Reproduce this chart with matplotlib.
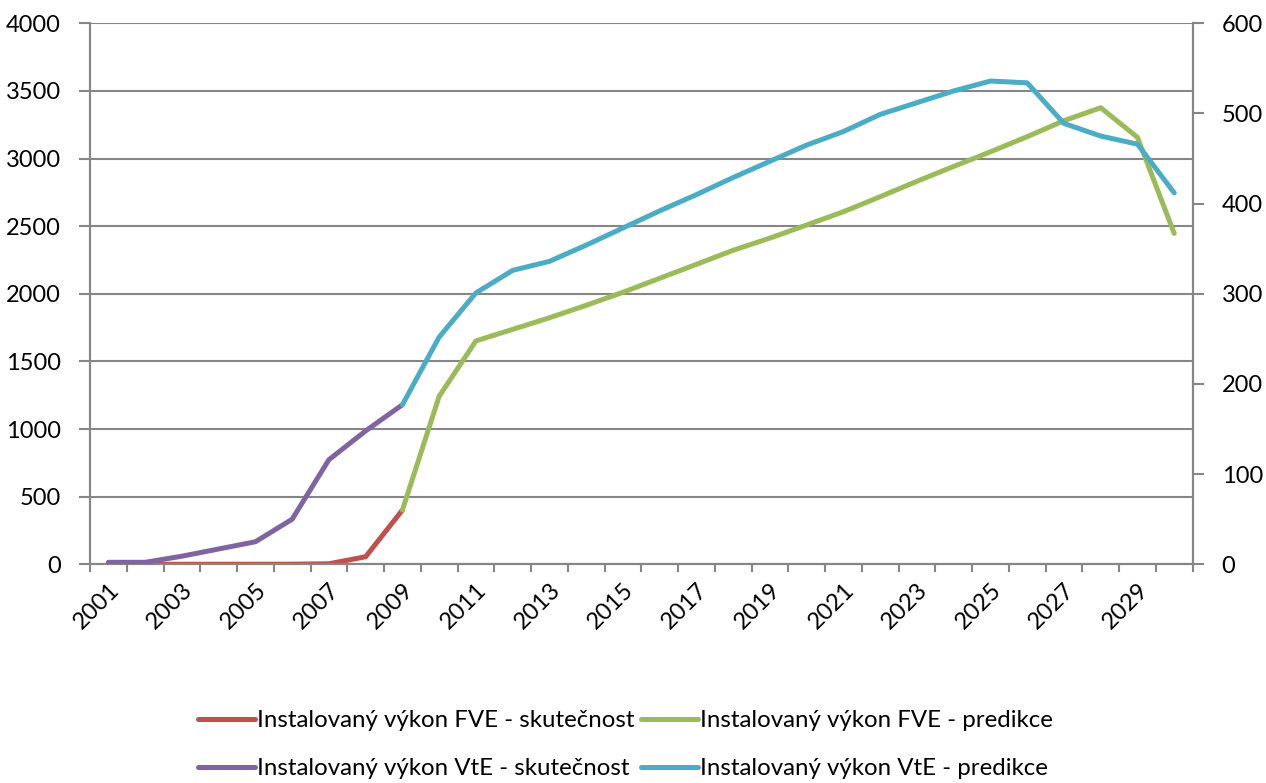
import numpy as np
import matplotlib
matplotlib.use("Agg")
import matplotlib.pyplot as plt
from matplotlib.ticker import FixedLocator, NullFormatter

plt.rcParams['font.family'] = ['Lato', 'DejaVu Sans']

years = list(range(2001, 2031))
nan = np.nan

fve_actual = [0, 0, 0.3, 0.4, 0.6, 0.8, 4, 56, 401] + [nan] * 21
fve_pred = [nan] * 8 + [401, 1242, 1652, 1737, 1823, 1915, 2011, 2115, 2218, 2322,
                        2412, 2509, 2607, 2718, 2832, 2942, 3050, 3162, 3280, 3376,
                        3157, 2447]
vte_actual = [2.2, 2.2, 9, 17, 25, 50, 116, 148, 177] + [nan] * 21
vte_pred = [nan] * 8 + [177, 252, 301, 326, 336, 354, 373, 392, 410, 429,
                        447, 465, 480, 499, 512, 525, 536, 534, 489, 475,
                        466, 412]

labels = {
    'fve_a': 'Instalovaný výkon FVE - skutečnost',
    'fve_p': 'Instalovaný výkon FVE - predikce',
    'vte_a': 'Instalovaný výkon VtE - skutečnost',
    'vte_p': 'Instalovaný výkon VtE - predikce',
}
colors = {'fve_a': '#C0504D', 'fve_p': '#9BBB59', 'vte_a': '#8064A2', 'vte_p': '#4BACC6'}

gray = '#868686'
fig = plt.figure(figsize=(12.66, 7.83), dpi=100)
ax = fig.add_axes([0.0711, 0.2793, 0.942 - 0.0711, 0.9702 - 0.2793])
ax2 = ax.twinx()

x = np.arange(len(years))
lw = 3.6
kw = dict(lw=lw, solid_capstyle='round', solid_joinstyle='round', zorder=3)
l1, = ax.plot(x, fve_actual, color=colors['fve_a'], label=labels['fve_a'], **kw)
l2, = ax.plot(x, fve_pred, color=colors['fve_p'], label=labels['fve_p'], **kw)
l3, = ax2.plot(x, vte_actual, color=colors['vte_a'], label=labels['vte_a'], **kw)
l4, = ax2.plot(x, vte_pred, color=colors['vte_p'], label=labels['vte_p'], **kw)

ax.set_xlim(-0.5, len(years) - 0.5)
ax.set_ylim(0, 4000)
ax2.set_ylim(0, 600)
ax.set_yticks(np.arange(0, 4001, 500))
ax2.set_yticks(np.arange(0, 601, 100))

fs = 17
ax.set_xticks(x[::2])
ax.set_xticklabels([str(y) for y in years[::2]], rotation=45, ha='right',
                   va='top', rotation_mode='anchor', fontsize=fs)
ax.xaxis.set_minor_locator(FixedLocator(np.arange(-0.5, len(years), 1)))
ax.xaxis.set_minor_formatter(NullFormatter())
ax.tick_params(axis='x', which='major', length=0, pad=11)
ax.tick_params(axis='x', which='minor', length=6, width=1.5, color=gray, direction='out')
ax.tick_params(axis='y', length=8, width=1.5, color=gray, labelsize=fs, pad=13)
ax2.tick_params(axis='y', length=8, width=1.5, color=gray, labelsize=fs, pad=13)

ax.grid(axis='y', color=gray, lw=1.5)
ax.set_axisbelow(True)
for a in (ax, ax2):
    a.spines['top'].set_visible(False)
    for s in ('left', 'right', 'bottom'):
        a.spines[s].set_color(gray)
        a.spines[s].set_linewidth(1.5)

fig.legend(handles=[l1, l3, l2, l4], loc='center', ncol=2,
           bbox_to_anchor=(0.494, 0.049), frameon=False, fontsize=17.3,
           handlelength=2.35, handletextpad=0.08, columnspacing=0.3,
           labelspacing=1.12)

fig.savefig('out.png', dpi=100)
